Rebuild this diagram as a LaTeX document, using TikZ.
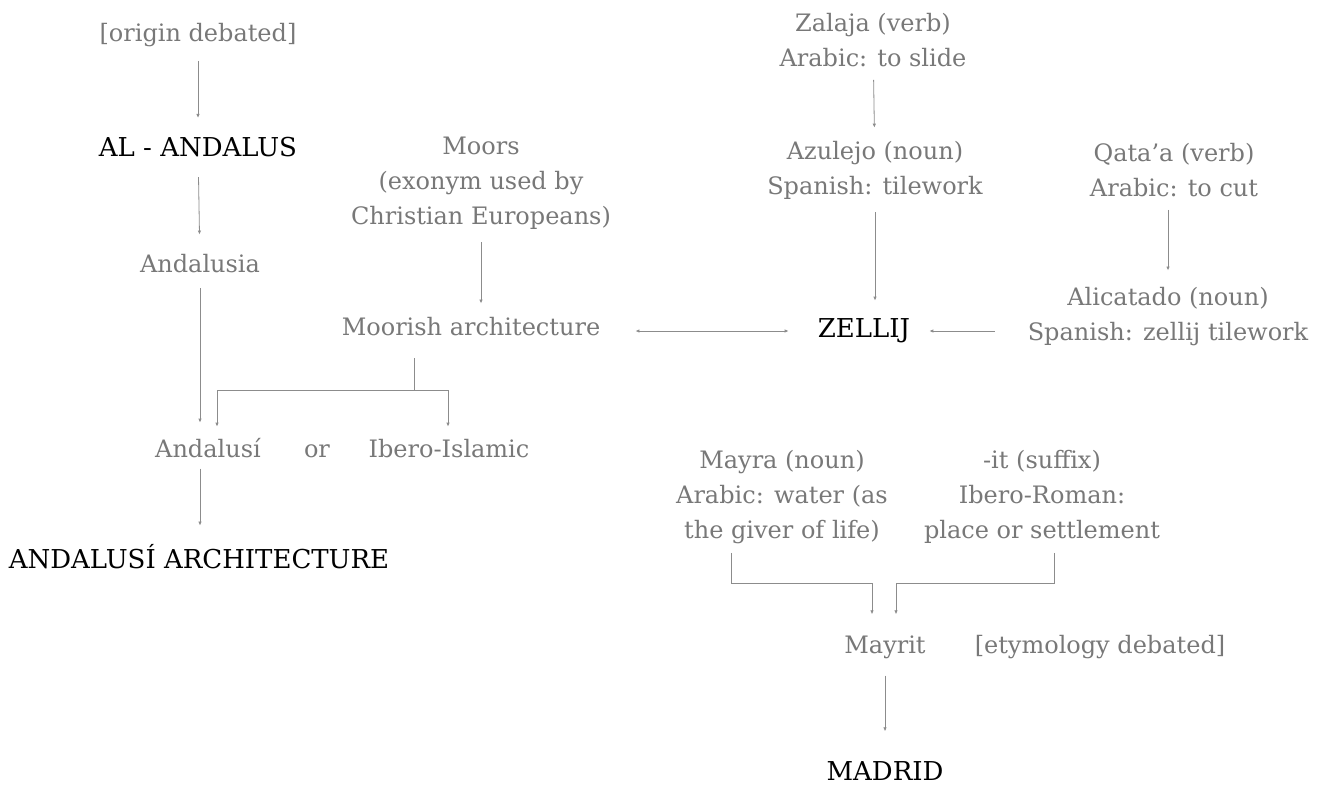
\documentclass[tikz,border=0pt]{standalone}
\usepackage{fontspec}
\setmainfont{DejaVu Serif}
\usetikzlibrary{arrows.meta}
\definecolor{txtgray}{HTML}{787878}
\definecolor{linegray}{HTML}{8C8C8C}
\newcommand{\glossfont}{\fontsize{24}{35}\selectfont}
\newcommand{\termfont}{\fontsize{26}{35}\selectfont}
\begin{document}
\begin{tikzpicture}[x=1pt,y=-1pt,
  >={Latex[length=4pt,width=3.5pt]},
  gloss/.style={text=txtgray,font=\glossfont,align=center,inner sep=0pt},
  term/.style={text=black,font=\termfont,inner sep=0pt},
  link/.style={draw=linegray,line width=0.8pt},
  flow/.style={link,->}]
\useasboundingbox (0,0) rectangle (1322,785);

% left column: al-andalus
\node[gloss] (orig) at (198,35) {[origin debated]};
\node[term] (aland) at (198,147) {AL - ANDALUS};
\node[gloss] (andalusia) at (200,264) {Andalusia};
\node[gloss,anchor=base] (andalusi) at (208,457) {Andalusí};
\node[gloss,anchor=base] (or) at (317,457) {or};
\node[gloss,anchor=base] (ibero) at (449,457) {Ibero-Islamic};
\node[term] (andarch) at (199,557) {ANDALUSÍ ARCHITECTURE};

% moors
\node[gloss] (moors) at (481,183) {Moors\\(exonym used by\\Christian Europeans)};
\node[gloss] (moorish) at (471,327) {Moorish architecture};

% zellij
\node[gloss] (zalaja) at (873,40) {Zalaja (verb)\\Arabic: to slide};
\node[gloss] (azulejo) at (875,170) {Azulejo (noun)\\Spanish: tilework};
\node[term] (zellij) at (864,331) {ZELLIJ};
\node[gloss] (qataa) at (1174,170) {Qata’a (verb)\\Arabic: to cut};
\node[gloss] (alicatado) at (1168,317) {Alicatado (noun)\\Spanish: zellij tilework};

% madrid
\node[gloss] (mayra) at (782,497) {Mayra (noun)\\Arabic: water (as\\the giver of life)};
\node[gloss] (suffix) at (1042,497) {-it (suffix)\\Ibero-Roman:\\place or settlement};
\node[gloss] (mayrit) at (885,647) {Mayrit};
\node[gloss] (etym) at (1100,647) {[etymology debated]};
\node[term] (madrid) at (885,771) {MADRID};

\coordinate (fork) at (414,390);
\coordinate (forkL) at (217,390);
\coordinate (forkR) at (448,390);
\coordinate (mL) at (731,583);
\coordinate (jL) at (872,583);
\coordinate (jR) at (896,583);
\coordinate (mR) at (1054,583);

\path[every edge/.style={flow}]
(orig) edge[shorten <=14pt,shorten >=19pt] (aland)
(aland) edge[shorten <=20pt,shorten >=20pt] (andalusia)
(andalusia) edge[shorten <=15pt,shorten >=15pt] (andalusia |- andalusi.north)
(andalusi.south -| andalusia) edge[shorten <=11pt,shorten >=19pt] (andarch.north -| andalusia)
(moors) edge[shorten <=13pt,shorten >=14pt] (moors |- moorish.north)
(zalaja) edge[shorten <=13pt,shorten >=13pt] (azulejo)
(azulejo) edge[shorten <=13pt,shorten >=18pt] (azulejo |- zellij.north)
(qataa.south -| alicatado) edge[shorten <=13pt,shorten >=17pt] (alicatado.north)
(alicatado.west |- zellij) edge[shorten <=33pt,shorten >=19pt] (zellij.east)
(mayrit) edge[shorten <=17pt,shorten >=30pt] (madrid);
\draw[link,<->,shorten <=35pt,shorten >=29pt] (moorish.east |- zellij) -- (zellij.west);
\draw[link,shorten <=22pt] (moorish.south -| fork) -- (fork);
\draw[flow] (fork) -- (forkL) -- ([yshift=11pt]forkL |- andalusi.north);
\draw[flow] (fork) -- (forkR) -- ([yshift=11pt]forkR |- andalusi.north);
\draw[flow,shorten <=9pt] (mayra.south -| mL) -- (mL) -- (jL) -- ([yshift=21pt]jL |- mayrit.north);
\draw[flow,shorten <=9pt] (suffix.south -| mR) -- (mR) -- (jR) -- ([yshift=21pt]jR |- mayrit.north);
\end{tikzpicture}
\end{document}
